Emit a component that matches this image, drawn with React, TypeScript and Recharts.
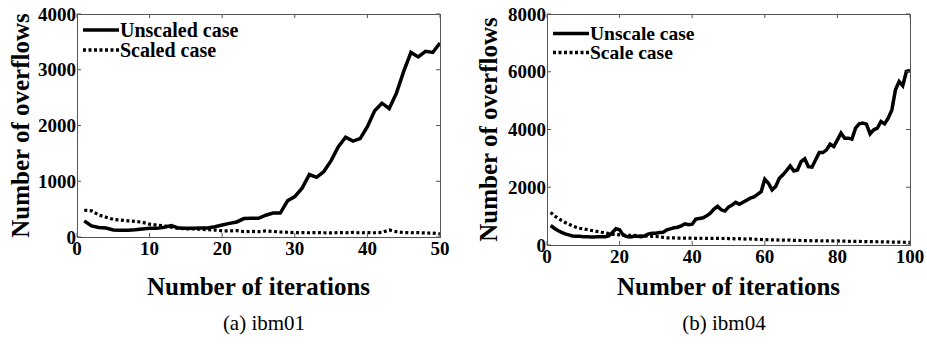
import { LineChart, Line, XAxis, YAxis, Legend, Label } from "recharts";

const FONT = '"Liberation Serif", "Times New Roman", Times, serif';
const AXIS = "#555";

// (a) ibm01
const itersA = Array.from({ length: 50 }, (_, i) => i + 1);
const unscaledA = [
  290, 200, 170, 160, 125, 120, 120, 130, 145, 155,
  155, 175, 205, 160, 155, 155, 160, 160, 185, 215,
  245, 270, 330, 335, 335, 390, 430, 430, 650, 725,
  875, 1120, 1070, 1175, 1370, 1620, 1790, 1720, 1765, 1980,
  2265, 2400, 2305, 2580, 2970, 3310, 3230, 3330, 3310, 3480,
];
const scaledA = [
  480, 470, 395, 355, 315, 305, 290, 280, 265, 230,
  215, 200, 175, 155, 145, 145, 140, 130, 125, 110,
  110, 115, 95, 100, 95, 108, 100, 90, 85, 78,
  78, 76, 78, 76, 74, 78, 76, 82, 76, 78,
  76, 82, 125, 95, 78, 76, 78, 72, 70, 55,
];
const xTicksA = [0, 10, 20, 30, 40, 50];
const yTicksA = [0, 1000, 2000, 3000, 4000];

// (b) ibm04
const itersB = Array.from({ length: 100 }, (_, i) => i + 1);
const unscaledB = [
  675, 580, 500, 440, 385, 350, 315, 300, 300, 290,
  290, 280, 280, 290, 290, 290, 315, 430, 560, 525,
  340, 290, 280, 300, 300, 290, 325, 385, 405, 405,
  430, 440, 525, 560, 595, 615, 665, 735, 700, 720,
  895, 920, 945, 1010, 1105, 1245, 1340, 1220, 1175, 1315,
  1385, 1475, 1410, 1480, 1550, 1620, 1665, 1755, 1850, 2275,
  2140, 1910, 2025, 2310, 2430, 2580, 2740, 2565, 2600, 2890,
  2985, 2715, 2695, 2950, 3200, 3200, 3295, 3490, 3410, 3640,
  3875, 3700, 3700, 3665, 4045, 4195, 4220, 4185, 3850, 3990,
  4045, 4280, 4195, 4390, 4680, 5375, 5665, 5515, 6010, 6045,
];
const scaledB = [
  1130, 1010, 930, 850, 780, 720, 665, 615, 580, 560,
  535, 510, 490, 465, 440, 420, 395, 370, 360, 350,
  345, 340, 335, 330, 320, 315, 310, 305, 300, 295,
  290, 265, 250, 245, 245, 240, 240, 240, 235, 235,
  232, 228, 235, 230, 226, 232, 228, 225, 230, 224,
  220, 215, 218, 210, 205, 212, 200, 198, 190, 185,
  182, 175, 178, 170, 168, 165, 170, 160, 158, 155,
  150, 152, 148, 145, 150, 142, 140, 145, 138, 140,
  135, 132, 130, 128, 125, 128, 120, 118, 115, 118,
  112, 110, 108, 105, 102, 100, 98, 95, 92, 90,
];
const xTicksB = [0, 20, 40, 60, 80, 100];
const yTicksB = [0, 2000, 4000, 6000, 8000];

type PanelProps = {
  left: number;
  width: number;
  plotBottom: number;
  iters: number[];
  unscaled: number[];
  scaled: number[];
  xTicks: number[];
  yTicks: number[];
  names: [string, string];
  legendTop: number;
  legendRow: number;
  legendFont: number;
  yTitleX: number;
};

const tickText = { fontFamily: FONT, fontWeight: 700, fontSize: 19, fill: "#000" };

// ticks point inward, like the matlab box
const bottomTick = (props: any) => {
  const { x, y, payload } = props;
  return (
    <g>
      <line x1={x} x2={x} y1={y} y2={y - 4} stroke={AXIS} />
      <text x={x} y={y + 5} dy="0.71em" textAnchor="middle" {...tickText}>{payload.value}</text>
    </g>
  );
};
const leftTick = (props: any) => {
  const { x, y, payload } = props;
  return (
    <g>
      <line x1={x} x2={x + 4} y1={y} y2={y} stroke={AXIS} />
      <text x={x - 1} y={y} dy="0.355em" textAnchor="end" {...tickText}>{payload.value}</text>
    </g>
  );
};
const topTick = (props: any) => <line x1={props.x} x2={props.x} y1={props.y} y2={props.y + 4} stroke={AXIS} />;
const rightTick = (props: any) => <line x1={props.x} x2={props.x - 4} y1={props.y} y2={props.y} stroke={AXIS} />;

function Panel(p: PanelProps) {
  const data = p.iters.map((x, i) => ({ x, u: p.unscaled[i], s: p.scaled[i] }));
  const height = 300;
  const plotTop = 14;
  const plotWidth = 363;
  const xMax = p.xTicks[p.xTicks.length - 1];
  const yMax = p.yTicks[p.yTicks.length - 1];

  const renderLegend = () => (
    <div style={{ fontFamily: FONT, fontWeight: 700, fontSize: p.legendFont, lineHeight: `${p.legendRow}px`, color: "#000" }}>
      {p.names.map((n, i) => (
        <div key={n} style={{ display: "flex", alignItems: "center", height: p.legendRow, whiteSpace: "nowrap" }}>
          <svg width={36} height={p.legendRow} style={{ display: "block" }}>
            <line x1={0} x2={36} y1={p.legendRow / 2} y2={p.legendRow / 2} stroke="#000" strokeWidth={3.5}
              strokeDasharray={i === 1 ? "3 2.5" : undefined} />
          </svg>
          <span style={{ marginLeft: 1 }}>{n}</span>
        </div>
      ))}
    </div>
  );

  const yTitle = (props: any) => {
    const vb = props.viewBox || { x: 0, y: plotTop, width: 77, height: p.plotBottom - plotTop };
    const x = vb.x + p.yTitleX;
    const y = vb.y + vb.height / 2;
    return (
      <text x={x} y={y} transform={`rotate(-90 ${x} ${y})`} textAnchor="middle" dominantBaseline="central"
        fontFamily={FONT} fontWeight={700} fontSize={25} fill="#000">
        Number of overflows
      </text>
    );
  };

  const xTitle = (props: any) => {
    const vb = props.viewBox || { x: 77, y: p.plotBottom, width: plotWidth, height: height - p.plotBottom };
    return (
      <text x={vb.x + vb.width / 2} y={vb.y + vb.height - 5} textAnchor="middle"
        fontFamily={FONT} fontWeight={700} fontSize={25} fill="#000">
        Number of iterations
      </text>
    );
  };

  return (
    <div style={{ position: "absolute", left: p.left, top: 0, width: p.width, height }}>
      <LineChart width={p.width} height={height} data={data}
        margin={{ top: plotTop - 1, right: p.width - 77 - plotWidth - 1, left: 0, bottom: 0 }}>
        <XAxis dataKey="x" type="number" domain={[0, xMax]} ticks={p.xTicks} interval={0}
          height={height - p.plotBottom} tickSize={0} tickMargin={0} axisLine={false} tickLine={false}
          tick={bottomTick}>
          <Label content={xTitle} />
        </XAxis>
        <XAxis xAxisId="t" orientation="top" dataKey="x" type="number" domain={[0, xMax]} ticks={p.xTicks}
          interval={0} height={1} tickSize={0} tickMargin={0} axisLine={false} tickLine={false} tick={topTick} />
        <YAxis type="number" domain={[0, yMax]} ticks={p.yTicks} interval={0} width={77}
          tickSize={0} tickMargin={0} axisLine={false} tickLine={false} tick={leftTick}>
          <Label content={yTitle} />
        </YAxis>
        <YAxis yAxisId="r" orientation="right" type="number" domain={[0, yMax]} ticks={p.yTicks} interval={0}
          width={1} tickSize={0} tickMargin={0} axisLine={false} tickLine={false} tick={rightTick} />
        <Legend layout="horizontal" verticalAlign="middle" align="center" content={renderLegend}
          wrapperStyle={{ position: "absolute", left: 83, top: p.legendTop, width: "auto", height: "auto" }} />
        <Line xAxisId="t" yAxisId="r" type="linear" dataKey="u" stroke="none" strokeWidth={0}
          dot={false} legendType="none" isAnimationActive={false} />
        <Line type="linear" dataKey="u" name={p.names[0]} stroke="#000" strokeWidth={3.5}
          dot={false} isAnimationActive={false} />
        <Line type="linear" dataKey="s" name={p.names[1]} stroke="#000" strokeWidth={3.2}
          strokeDasharray="3 2.5" dot={false} isAnimationActive={false} />
      </LineChart>
      {/* plot frame */}
      <div style={{ position: "absolute", left: 77, top: plotTop, width: plotWidth + 1, height: p.plotBottom - plotTop + 1,
        border: `1px solid ${AXIS}`, boxSizing: "border-box", pointerEvents: "none" }} />
    </div>
  );
}

export default function App() {
  const caption = { position: "absolute" as const, top: 311, width: 200, textAlign: "center" as const,
    fontFamily: FONT, fontSize: 21, color: "#000" };
  return (
    <div style={{ position: "relative", width: 927, height: 344, background: "#fff", overflow: "hidden" }}>
      <style>{`body{margin:0}`}</style>
      <Panel left={0} width={460} plotBottom={237} iters={itersA} unscaled={unscaledA} scaled={scaledA}
        xTicks={xTicksA} yTicks={yTicksA} names={["Unscaled case", "Scaled case"]}
        legendTop={20} legendRow={20} legendFont={20} yTitleX={20} />
      <Panel left={470} width={457} plotBottom={245} iters={itersB} unscaled={unscaledB} scaled={scaledB}
        xTicks={xTicksB} yTicks={yTicksB} names={["Unscale case", "Scale case"]}
        legendTop={24} legendRow={19} legendFont={19.5} yTitleX={18} />
      <div style={{ ...caption, left: 164 }}>(a) ibm01</div>
      <div style={{ ...caption, left: 624 }}>(b) ibm04</div>
    </div>
  );
}
